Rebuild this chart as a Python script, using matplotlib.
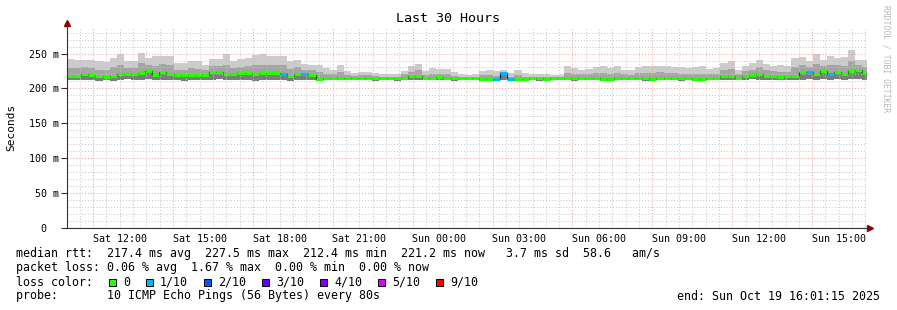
import numpy as np
import pandas as pd
import matplotlib
matplotlib.use('Agg')
import matplotlib.pyplot as plt
import matplotlib.dates as mdates
from matplotlib.patches import Rectangle

plt.rcParams['font.family'] = 'DejaVu Sans Mono'

# median rtt per 16 min bin (ms)
med = [217.4, 217.8, 220.0, 218.6, 217.2, 216.2, 217.2, 221.2, 220.4, 220.8,
       222.2, 224.4, 219.6, 224.2, 220.8, 219.8, 219.6, 219.8, 219.8, 219.6,
       224.0, 223.6, 221.0, 220.2, 221.5, 222.8, 220.0, 221.5, 221.5, 222.8,
       220.5, 218.5, 220.5, 220.5, 219.0, 214.0, 215.0, 215.0, 215.2, 214.8,
       214.5, 214.5, 214.5, 214.5, 214.5, 214.5, 214.5, 215.5, 217.5, 218.4,
       215.0, 215.0, 216.5, 215.5, 214.5, 214.5, 214.5, 214.5, 214.0, 214.0,
       213.6, 222.2, 213.8, 214.0, 214.0, 214.5, 214.5, 214.0, 214.5, 214.5,
       214.5, 214.5, 214.5, 214.5, 214.5, 214.0, 214.0, 214.5, 214.5, 214.5,
       214.5, 214.5, 213.5, 214.5, 214.5, 215.0, 214.5, 215.0, 214.0, 213.6,
       215.0, 215.0, 218.4, 218.4, 215.0, 218.4, 219.8, 221.3, 217.4, 218.4,
       216.5, 217.4, 217.4, 224.0, 223.2, 220.8, 225.6, 221.3, 223.2, 220.8,
       224.6, 227.0, 221.8]

# slowest ping per bin (ms)
hi = [242.8, 241.4, 240.4, 241.4, 239.0, 237.5, 243.8, 248.6, 239.5, 239.5,
      251.0, 243.8, 247.0, 247.0, 247.0, 236.6, 236.6, 239.0, 239.0, 234.2,
      242.4, 242.4, 248.6, 239.0, 242.4, 243.8, 247.5, 248.6, 246.2, 247.0,
      247.0, 239.0, 241.4, 235.6, 234.2, 234.2, 229.4, 226.0, 233.0, 225.6,
      221.8, 223.7, 223.7, 221.8, 220.8, 220.8, 220.8, 225.6, 231.8, 235.2,
      225.6, 229.4, 227.5, 228.4, 223.2, 220.8, 219.8, 221.3, 224.6, 226.0,
      224.6, 227.0, 222.2, 226.0, 222.2, 221.3, 221.3, 220.8, 219.8, 219.8,
      232.8, 229.4, 227.0, 228.0, 231.4, 232.8, 229.4, 232.8, 227.0, 226.0,
      231.4, 232.8, 232.8, 232.8, 232.0, 231.0, 230.0, 229.0, 231.0, 232.0,
      228.0, 229.0, 236.0, 239.0, 227.0, 232.8, 236.0, 240.4, 235.6, 232.8,
      234.2, 232.8, 244.0, 245.2, 239.0, 250.0, 240.4, 246.0, 244.0, 245.0,
      255.7, 241.4, 241.4]

# upper edge of the darker smoke (ms)
hi2 = [229, 229, 230, 229, 227, 226, 230, 234, 229, 229,
       236, 233, 232, 235, 233, 227, 227, 229, 228, 226,
       232, 232, 234, 229, 231, 232, 233, 234, 233, 234,
       233, 228, 230, 227, 226, 223, 221, 220, 223, 219,
       218, 219, 219, 218, 217, 217, 217, 220, 224, 226,
       219, 221, 221, 221, 218, 217, 217, 217, 219, 219,
       218, 224, 217, 219, 217, 217, 217, 217, 217, 217,
       222, 221, 220, 221, 222, 222, 221, 222, 220, 219,
       222, 222, 222, 223, 222, 222, 221, 221, 221, 221,
       220, 221, 226, 228, 220, 225, 227, 230, 226, 225,
       224, 224, 230, 234, 231, 235, 232, 233, 233, 232,
       239, 234, 231]

# fastest ping per bin (ms)
lo = [211.5, 212.0, 212.5, 212.0, 211.0, 211.5, 211.0, 212.5, 213.0, 212.0,
      212.5, 213.0, 211.5, 212.0, 212.5, 212.0, 211.0, 211.5, 212.5, 212.0,
      212.5, 213.0, 212.0, 211.5, 212.0, 212.5, 211.0, 211.5, 212.0, 212.5,
      212.0, 211.0, 211.5, 212.0, 212.5, 211.0, 211.5, 212.0, 212.0, 211.5,
      211.5, 212.0, 211.5, 211.0, 212.0, 211.5, 211.0, 212.0, 212.5, 212.0,
      211.5, 212.0, 212.0, 211.5, 211.0, 211.5, 212.0, 211.5, 211.0, 211.5,
      211.0, 211.5, 211.5, 211.0, 212.0, 211.5, 211.0, 211.5, 212.0, 211.5,
      211.5, 211.0, 211.5, 212.0, 211.5, 211.0, 211.0, 211.5, 212.0, 211.5,
      211.5, 211.0, 211.0, 211.5, 212.0, 211.5, 211.0, 211.5, 211.0, 211.0,
      211.5, 212.0, 212.5, 212.0, 211.5, 212.5, 213.0, 212.5, 212.0, 212.5,
      212.0, 212.5, 212.0, 212.5, 213.0, 212.0, 213.0, 212.5, 213.0, 212.0,
      213.0, 213.5, 212.5]

# lost pings out of 10
loss = [0] * len(med)
for i in [30, 33, 60, 61, 62, 104, 107]:
    loss[i] = 1

loss_labels = ['0', '1/10', '2/10', '3/10', '4/10', '5/10', '9/10']
loss_colors = ['#26ff00', '#00b8ff', '#0059ff', '#5e00ff', '#7e00ff', '#dd00ff', '#ff0000']

start = pd.Timestamp('2025-10-18 10:01:15')
end = pd.Timestamp('2025-10-19 16:01:15')

W, H = 897, 310
fig = plt.figure(figsize=(W / 100, H / 100), dpi=100)
L, R, T, B = 67, 866, 27, 228
ax = fig.add_axes([L / W, 1 - B / H, (R - L) / W, (B - T) / H])

edges = pd.date_range(start, periods=len(med) + 1, freq='16min')
x = mdates.date2num(edges.to_pydatetime())

def ext(v):
    v = np.asarray(v, dtype=float)
    return np.append(v, v[-1])

# smoke, light outside to dark inside
ax.fill_between(x, ext(lo), ext(hi), step='post', color='#cccccc', lw=0, zorder=1)
ax.fill_between(x, ext(lo), ext(hi2), step='post', color='#a4a4a4', lw=0, zorder=1.2)
ax.fill_between(x, ext(lo), ext(med), step='post', color='#7c7c7c', lw=0, zorder=1.4)
ax.step(x, ext(med), where='post', color='#202020', lw=0.9, zorder=4)
cols = [loss_colors[min(l, 6)] for l in loss]
ax.hlines(med, x[:-1], x[1:], colors=cols, lw=2.2, zorder=5)

ax.set_xlim(mdates.date2num(start.to_pydatetime()), mdates.date2num(end.to_pydatetime()))
ax.set_ylim(0, 288)

# grid
minor_times = pd.date_range('2025-10-18 10:30', end, freq='30min')
major_times = pd.date_range('2025-10-18 11:00', end, freq='3h')
for tm in minor_times:
    if tm not in major_times:
        ax.axvline(mdates.date2num(tm.to_pydatetime()), color='#c4c4c4', lw=0.7,
                   ls=(0, (1, 2)), zorder=3)
for tm in major_times:
    ax.axvline(mdates.date2num(tm.to_pydatetime()), color='#f49a9a', lw=0.7,
               ls=(0, (1, 2)), zorder=3)
for yv in range(10, 290, 10):
    if yv % 50:
        ax.axhline(yv, color='#c4c4c4', lw=0.7, ls=(0, (1, 2)), zorder=3)
    else:
        ax.axhline(yv, color='#f49a9a', lw=0.7, ls=(0, (1, 2)), zorder=3)

label_times = pd.date_range('2025-10-18 12:00', end, freq='3h')
ax.set_xticks(mdates.date2num(label_times.to_pydatetime()))
ax.set_xticklabels([t.strftime('%a %H:%M') for t in label_times], fontsize=7.2)
ax.tick_params(axis='x', length=0, pad=4)

yticks = [0, 50, 100, 150, 200, 250]
ax.set_yticks(yticks)
ax.set_yticklabels(['%d m' % v if v else '0  ' for v in yticks], fontsize=7.2)
ax.tick_params(axis='y', length=4, width=0.8, color='#303030', pad=2)

for s in ['top', 'right']:
    ax.spines[s].set_visible(False)
for s in ['left', 'bottom']:
    ax.spines[s].set_color('#303030')
    ax.spines[s].set_linewidth(0.8)
ax.spines['left'].set_zorder(6)
ax.spines['bottom'].set_zorder(6)

ax.plot([0], [1.02], marker='^', ms=4.5, color='#8b0000', transform=ax.transAxes,
        clip_on=False, zorder=7)
ax.plot([1.005], [0], marker='>', ms=4.5, color='#8b0000', transform=ax.transAxes,
        clip_on=False, zorder=7)

fig.text(448 / W, 1 - 19 / H, 'Last 30 Hours', ha='center', va='center', fontsize=9.6)
fig.text(11 / W, 1 - 127 / H, 'Seconds', rotation=90, ha='center', va='center', fontsize=8)
fig.text(886 / W, 1 - 59 / H, 'RRDTOOL / TOBI OETIKER', rotation=270, ha='center',
         va='center', fontsize=5.8, color='#b8b8b8')

fs = 8.4
rows = [
    'median rtt:  217.4 ms avg  227.5 ms max  212.4 ms min  221.2 ms now   3.7 ms sd  58.6   am/s',
    'packet loss: 0.06 % avg  1.67 % max  0.00 % min  0.00 % now',
    'loss color:',
    'probe:       10 ICMP Echo Pings (56 Bytes) every 80s',
]
for k, r in enumerate(rows):
    fig.text(16 / W, 1 - (254 + 14 * k) / H, r, ha='left', va='center', fontsize=fs)

box_x = [109, 146, 204, 262, 320, 378, 436]
for bx, lab, c in zip(box_x, loss_labels, loss_colors):
    fig.add_artist(Rectangle((bx / W, 1 - 285.5 / H), 7 / W, 7 / H, transform=fig.transFigure,
                             facecolor=c, edgecolor='black', lw=0.7))
    fig.text((bx + 14) / W, 1 - 282 / H, lab, ha='left', va='center', fontsize=fs)

fig.text(880 / W, 1 - 296 / H, 'end: Sun Oct 19 16:01:15 2025', ha='right', va='center',
         fontsize=fs)

fig.savefig('out.png', dpi=100)
